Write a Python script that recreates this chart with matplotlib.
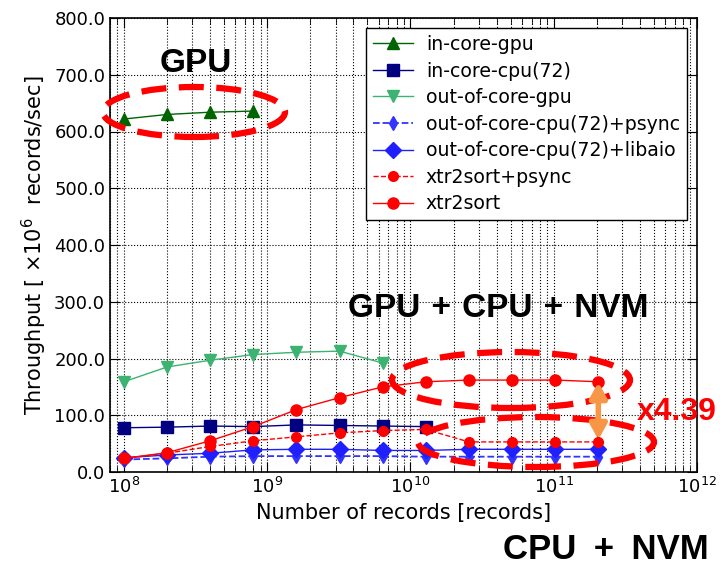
import matplotlib
matplotlib.use("Agg")
import matplotlib.pyplot as plt
from matplotlib.patches import Ellipse
from matplotlib.ticker import FormatStrFormatter

# records: 1e8 doubled each step
records = [1e8 * 2 ** k for k in range(12)]

in_core_gpu = [622, 630, 634, 636]
in_core_cpu = [78, 79, 81, 80, 83, 82, 81, 80]
ooc_gpu = [159, 185, 197, 207, 211, 213, 192]
ooc_cpu_psync = [22, 24, 27, 28, 28, 28, 28, 27, 27, 27, 27, 27]
ooc_cpu_libaio = [25, 30, 33, 39, 40, 40, 38, 38, 40, 40, 40, 40]
xtr_psync = [24, 33, 45, 55, 62, 69, 73, 75, 53, 53, 53, 53]
xtr = [24, 34, 55, 80, 110, 131, 150, 159, 162, 162, 162, 159]

W, H = 720, 566
fig = plt.figure(figsize=(7.2, 5.66), dpi=100)
ax = fig.add_axes([110 / W, 1 - 472 / H, 587 / W, 454 / H])

ax.plot(records[:4], in_core_gpu, color="darkgreen", marker="^", ms=8, lw=1, label="in-core-gpu")
ax.plot(records[:8], in_core_cpu, color="navy", marker="s", ms=8, lw=1, label="in-core-cpu(72)")
ax.plot(records[:7], ooc_gpu, color="mediumseagreen", marker="v", ms=8, lw=1, label="out-of-core-gpu")
ax.plot(records, ooc_cpu_psync, color="#3333ff", marker="d", ms=7, lw=1.3, ls="--", label="out-of-core-cpu(72)+psync")
ax.plot(records, ooc_cpu_libaio, color="#2020ff", marker="D", ms=8, lw=1, label="out-of-core-cpu(72)+libaio")
ax.plot(records, xtr_psync, color="red", marker="o", ms=7, lw=1, ls="--", label="xtr2sort+psync")
ax.plot(records, xtr, color="red", marker="o", ms=8, lw=1, label="xtr2sort")

ax.set_xscale("log")
ax.set_xlim(8e7, 1e12)
ax.set_ylim(0, 800)
ax.set_yticks(range(0, 801, 100))
ax.yaxis.set_major_formatter(FormatStrFormatter("%.1f"))
ax.tick_params(which="both", direction="in", top=True, right=True, labelsize=13)
ax.tick_params(which="major", length=7)
ax.tick_params(which="minor", length=4)
ax.grid(True, which="major", color="black", ls=":", lw=0.8)
ax.grid(True, which="minor", axis="x", color="black", ls=":", lw=0.8)
for s in ax.spines.values():
    s.set_linewidth(1.2)

ax.set_xlabel("Number of records [records]", fontsize=15)
ax.set_ylabel(r"Throughput [ $\times10^6$  records/sec]", fontsize=15)

ax.legend(loc="upper right", fontsize=13.6, numpoints=1, fancybox=False,
          edgecolor="black", framealpha=1, borderaxespad=0.55,
          labelspacing=0.4, handlelength=2.1, handletextpad=0.7, borderpad=0.35)

# annotations placed in pixel coordinates (top-left origin)
def fx(x):
    return x / W

def fy(y):
    return 1 - y / H

for cx, cy, w, h in [(194, 112, 182, 50), (511, 380, 238, 56), (536, 442, 236, 50)]:
    ax.add_patch(Ellipse((fx(cx), fy(cy)), w / W, h / H, transform=fig.transFigure,
                         fill=False, edgecolor="red", lw=4.5, ls=(0, (4, 2)),
                         clip_on=False, zorder=5))

ax.annotate("", xy=(records[-1], 57), xytext=(records[-1], 158),
            arrowprops=dict(arrowstyle="<|-|>,head_length=0.45,head_width=0.25",
                            color="#f79646", lw=4, mutation_scale=20,
                            shrinkA=0, shrinkB=0), zorder=6)

big = dict(fontsize=24, fontweight="bold", family="Liberation Sans", va="baseline")
fig.text(fx(160), fy(72), "GPU", **big)
fig.text(fx(348), fy(317), "GPU\u2004+\u2004CPU\u2004+\u2004NVM", **big)
fig.text(fx(503), fy(559), "CPU\u2002+\u2002NVM", fontsize=25, fontweight="bold",
         family="Liberation Sans", va="baseline")
fig.text(fx(637), fy(420), "x4.39", color="red", fontsize=23, fontweight="bold",
         family="Liberation Sans", va="baseline")

fig.savefig("out.png", dpi=100)
